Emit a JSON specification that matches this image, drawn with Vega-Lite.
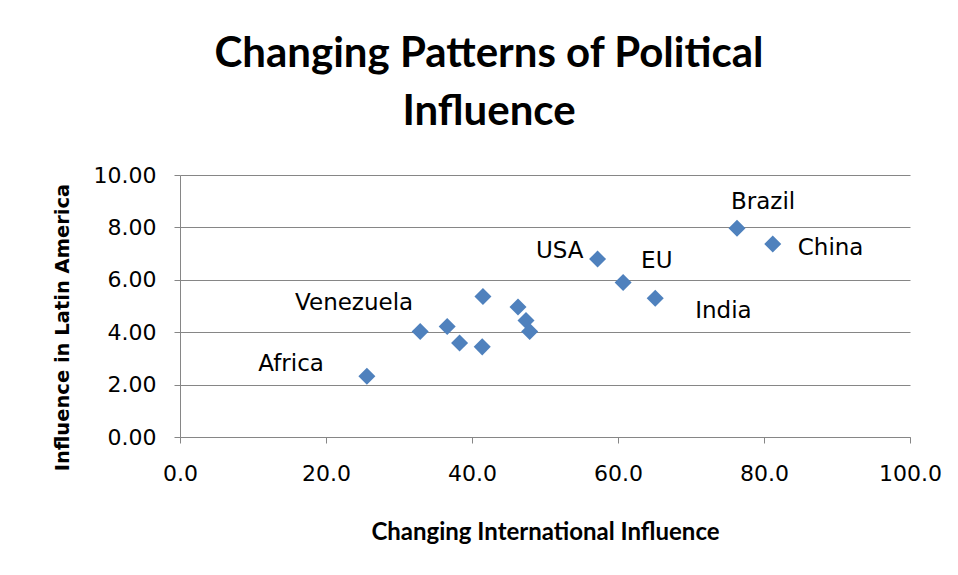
{
  "$schema": "https://vega.github.io/schema/vega-lite/v6.json",
  "autosize": "none",
  "width": 730,
  "height": 262,
  "padding": {"left": 180, "top": 175, "right": 48, "bottom": 138},
  "background": "white",
  "title": {
    "text": ["Changing Patterns of Political", "Influence"],
    "font": "Lato",
    "fontSize": 42,
    "fontWeight": "bold",
    "color": "#000000",
    "anchor": "middle",
    "dx": -56,
    "offset": 30,
    "lineHeight": 58
  },
  "config": {
    "view": {"stroke": null},
    "axis": {
      "labelFont": "DejaVu Sans",
      "labelFontSize": 22,
      "labelColor": "#000000",
      "titleFont": "Lato",
      "titleFontSize": 24,
      "titleFontWeight": "bold",
      "titleColor": "#000000",
      "gridColor": "#868686",
      "gridOpacity": 1,
      "domainColor": "#868686",
      "tickColor": "#868686",
      "tickSize": 6
    }
  },
  "data": {
    "values": [
      {"name": "Africa", "x": 25.6, "y": 2.32},
      {"name": "Venezuela", "x": 32.9, "y": 4.03},
      {"name": "", "x": 36.6, "y": 4.22},
      {"name": "", "x": 38.3, "y": 3.59},
      {"name": "", "x": 41.5, "y": 5.36},
      {"name": "", "x": 41.4, "y": 3.44},
      {"name": "", "x": 46.3, "y": 4.96},
      {"name": "", "x": 47.4, "y": 4.45},
      {"name": "", "x": 47.9, "y": 4.03},
      {"name": "USA", "x": 57.2, "y": 6.79},
      {"name": "EU", "x": 60.7, "y": 5.9},
      {"name": "India", "x": 65.1, "y": 5.3},
      {"name": "Brazil", "x": 76.3, "y": 7.97},
      {"name": "China", "x": 81.2, "y": 7.37}
    ]
  },
  "encoding": {
    "x": {
      "field": "x",
      "type": "quantitative",
      "scale": {"domain": [0, 100], "nice": false},
      "axis": {
        "values": [0, 20, 40, 60, 80, 100],
        "format": ".1f",
        "grid": false,
        "labelFlush": false,
        "labelOverlap": false,
        "title": "Changing International Influence",
        "labelPadding": 20,
        "titlePadding": 36
      }
    },
    "y": {
      "field": "y",
      "type": "quantitative",
      "scale": {"domain": [0, 10], "nice": false},
      "axis": {
        "values": [0, 2, 4, 6, 8, 10],
        "format": ".2f",
        "labelFlush": false,
        "labelOverlap": false,
        "title": "Influence in Latin America",
        "labelPadding": 18,
        "titleX": -118,
        "titleY": 152,
        "titleAngle": 270,
        "titleAlign": "center",
        "titleBaseline": "middle",
        "titleFont": "DejaVu Sans",
        "titleFontSize": 19.5
      }
    }
  },
  "layer": [
    {
      "mark": {"type": "point", "shape": "diamond", "filled": true, "size": 290, "color": "#4F81BD", "opacity": 1}
    },
    {
      "transform": [{"filter": "datum.name === 'Africa'"}],
      "mark": {"type": "text", "font": "DejaVu Sans", "fontSize": 23, "align": "right", "baseline": "middle", "dx": -43, "dy": -12, "color": "#000000"},
      "encoding": {"text": {"field": "name"}}
    },
    {
      "transform": [{"filter": "datum.name === 'Venezuela'"}],
      "mark": {"type": "text", "font": "DejaVu Sans", "fontSize": 23, "align": "right", "baseline": "middle", "dx": -7, "dy": -28, "color": "#000000"},
      "encoding": {"text": {"field": "name"}}
    },
    {
      "transform": [{"filter": "datum.name === 'USA'"}],
      "mark": {"type": "text", "font": "DejaVu Sans", "fontSize": 23, "align": "right", "baseline": "middle", "dx": -14, "dy": -8, "color": "#000000"},
      "encoding": {"text": {"field": "name"}}
    },
    {
      "transform": [{"filter": "datum.name === 'EU'"}],
      "mark": {"type": "text", "font": "DejaVu Sans", "fontSize": 23, "align": "left", "baseline": "middle", "dx": 18, "dy": -21, "color": "#000000"},
      "encoding": {"text": {"field": "name"}}
    },
    {
      "transform": [{"filter": "datum.name === 'India'"}],
      "mark": {"type": "text", "font": "DejaVu Sans", "fontSize": 23, "align": "left", "baseline": "middle", "dx": 40, "dy": 13, "color": "#000000"},
      "encoding": {"text": {"field": "name"}}
    },
    {
      "transform": [{"filter": "datum.name === 'Brazil'"}],
      "mark": {"type": "text", "font": "DejaVu Sans", "fontSize": 23, "align": "left", "baseline": "middle", "dx": -6, "dy": -26, "color": "#000000"},
      "encoding": {"text": {"field": "name"}}
    },
    {
      "transform": [{"filter": "datum.name === 'China'"}],
      "mark": {"type": "text", "font": "DejaVu Sans", "fontSize": 23, "align": "left", "baseline": "middle", "dx": 25, "dy": 4, "color": "#000000"},
      "encoding": {"text": {"field": "name"}}
    }
  ]
}
